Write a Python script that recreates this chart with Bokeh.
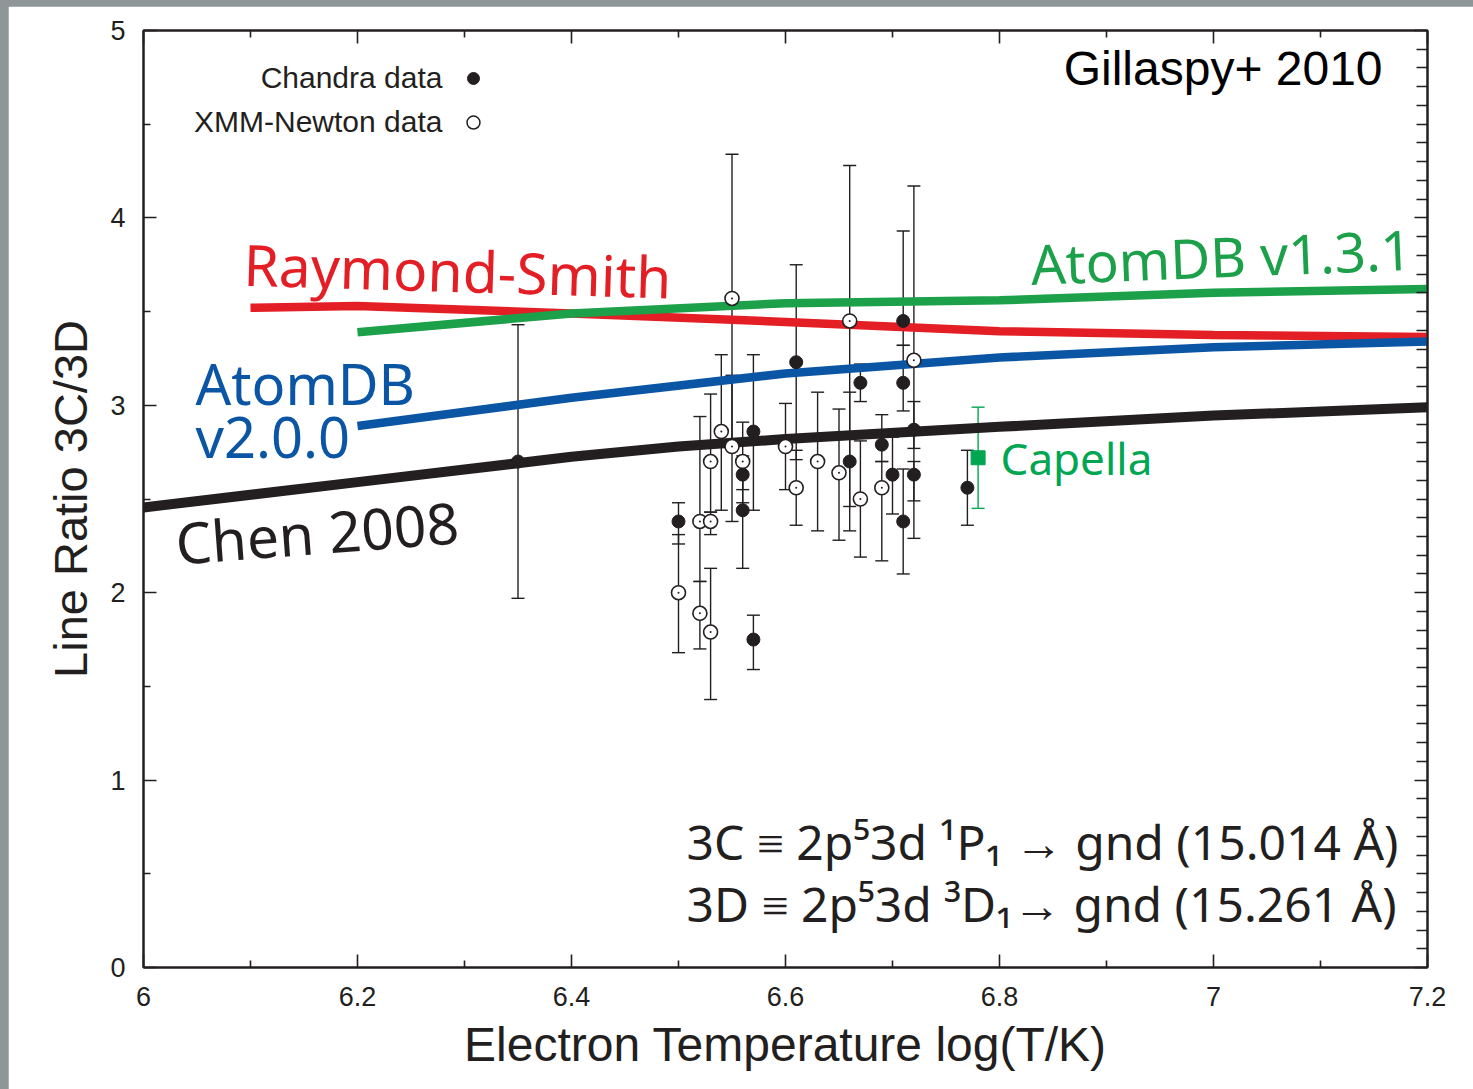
from bokeh.plotting import figure
from bokeh.models import (Range1d, LinearAxis, FixedTicker, Whisker, TeeHead,
                          ColumnDataSource, Label, CustomLabelingPolicy)
from bokeh.layouts import column
from bokeh.embed import file_html
from bokeh.resources import INLINE

# ---------------- data ----------------
# Chandra (filled circles)
chandra_x  = [6.35, 6.50, 6.56, 6.56, 6.57, 6.57, 6.61, 6.66, 6.67, 6.69, 6.70, 6.71, 6.71, 6.71, 6.72, 6.72, 6.77]
chandra_y  = [2.70, 2.38, 2.63, 2.44, 2.86, 1.75, 3.23, 2.70, 3.12, 2.79, 2.63, 3.45, 3.12, 2.38, 2.87, 2.63, 2.56]
chandra_hi = [3.43, 2.48, 2.73, 2.69, 3.27, 1.88, 3.75, 3.07, 3.22, 2.95, 2.83, 3.93, 3.32, 2.66, 3.02, 2.70, 2.76]
chandra_lo = [1.97, 2.26, 2.48, 2.13, 2.44, 1.59, 2.71, 2.46, 3.02, 2.70, 2.42, 3.32, 2.97, 2.10, 2.77, 2.29, 2.36]

# XMM-Newton (open circles)
xmm_x  = [6.50, 6.52, 6.52, 6.53, 6.53, 6.53, 6.54, 6.55, 6.55, 6.56, 6.60, 6.61, 6.63, 6.65, 6.66, 6.67, 6.69, 6.72]
xmm_y  = [2.00, 2.38, 1.89, 2.38, 2.70, 1.79, 2.86, 3.57, 2.78, 2.70, 2.78, 2.56, 2.70, 2.64, 3.45, 2.50, 2.56, 3.24]
xmm_hi = [2.31, 2.94, 2.06, 2.43, 3.06, 2.13, 3.27, 4.34, 3.16, 2.91, 3.01, 2.76, 3.07, 2.98, 4.28, 2.81, 2.70, 4.17]
xmm_lo = [1.68, 2.06, 1.70, 2.31, 2.43, 1.43, 2.44, 2.80, 2.38, 2.55, 2.55, 2.36, 2.33, 2.28, 2.33, 2.19, 2.17, 2.49]

# Capella
capella_x  = [6.78]
capella_y  = [2.72]
capella_hi = [2.99]
capella_lo = [2.45]

# Model curves
rs_T  = [6.1, 6.2, 6.4, 6.6, 6.8, 7.0, 7.2]
rs_R  = [3.52, 3.53, 3.49, 3.445, 3.395, 3.375, 3.365]
a13_T = [6.2, 6.4, 6.6, 6.8, 7.0, 7.2]
a13_R = [3.39, 3.49, 3.545, 3.56, 3.60, 3.62]
a20_T = [6.2, 6.4, 6.6, 6.8, 7.0, 7.2]
a20_R = [2.89, 3.04, 3.17, 3.255, 3.31, 3.34]
chen_T = [6.0, 6.2, 6.4, 6.5, 6.6, 6.8, 7.0, 7.2]
chen_R = [2.455, 2.59, 2.725, 2.78, 2.82, 2.885, 2.945, 2.99]

x_ticks = [6.0, 6.2, 6.4, 6.6, 6.8, 7.0, 7.2]
x_tick_labels = ["6", "6.2", "6.4", "6.6", "6.8", "7", "7.2"]
y_ticks = [0, 1, 2, 3, 4, 5]

# ---------------- styling ----------------
INK = "#231f20"
RED = "#e31e25"
GREEN = "#1ca04a"
BLUE = "#0a55a4"
CAP_GREEN = "#00a651"
HUM = "Noto Sans"
HEL = "Liberation Sans"
PX_PER_Y = 187.4  # frame height / y span (layout helper for text baselines)

p = figure(width=1465, height=1083, output_backend="svg", toolbar_location=None,
           x_range=Range1d(6.0, 7.2), y_range=Range1d(0, 5),
           min_border_left=135, min_border_right=46, min_border_top=24, min_border_bottom=122,
           x_axis_label="Electron Temperature log(T/K)", y_axis_label="Line Ratio 3C/3D")
p.margin = (6, 0, 0, 8)
p.grid.visible = False
p.outline_line_color = INK
p.outline_line_width = 2
p.background_fill_color = "white"
p.border_fill_color = "white"

xminor = [round(6.1 + 0.2 * i, 2) for i in range(6)]
yminor_left = [0.5, 1.5, 2.5, 3.5, 4.5]
yminor_right = [round(0.1 * i, 2) for i in range(51) if i % 10 != 0]

no_labels = CustomLabelingPolicy(code="return new Set()")

def style_axis(ax, labels=True):
    ax.axis_line_color = INK
    ax.axis_line_width = 2
    ax.major_tick_line_color = INK
    ax.minor_tick_line_color = INK
    ax.major_tick_line_width = 1.6
    ax.minor_tick_line_width = 1.6
    ax.major_tick_in = 13
    ax.major_tick_out = 0
    ax.minor_tick_in = 7
    ax.minor_tick_out = 0
    if labels:
        ax.major_label_text_font = HEL
        ax.major_label_text_font_size = "27px"
        ax.major_label_text_color = INK
        ax.axis_label_text_font = HEL
        ax.axis_label_text_font_style = "normal"
        ax.axis_label_text_color = INK
    else:
        ax.major_label_policy = no_labels
        ax.major_label_standoff = 0

xax = p.xaxis[0]
xax.ticker = FixedTicker(ticks=x_ticks, minor_ticks=xminor)
xax.major_label_overrides = {t: l for t, l in zip(x_ticks, x_tick_labels)}
style_axis(xax)
xax.axis_label_text_font_size = "48px"
xax.major_label_standoff = 19
xax.axis_label_standoff = 9

yax = p.yaxis[0]
yax.ticker = FixedTicker(ticks=y_ticks, minor_ticks=yminor_left)
style_axis(yax)
yax.axis_label_text_font_size = "47px"
yax.major_label_standoff = 18
yax.axis_label_standoff = 10

top = LinearAxis(ticker=FixedTicker(ticks=x_ticks, minor_ticks=xminor))
style_axis(top, labels=False)
p.add_layout(top, "above")
right = LinearAxis(ticker=FixedTicker(ticks=y_ticks, minor_ticks=yminor_right))
style_axis(right, labels=False)
right.minor_tick_in = 11
p.add_layout(right, "right")

# ---------------- error bars ----------------
ch_src = ColumnDataSource(dict(x=chandra_x, y=chandra_y, hi=chandra_hi, lo=chandra_lo))
xm_src = ColumnDataSource(dict(x=xmm_x, y=xmm_y, hi=xmm_hi, lo=xmm_lo))
cp_src = ColumnDataSource(dict(x=capella_x, y=capella_y, hi=capella_hi, lo=capella_lo))

for src, col in ((ch_src, INK), (xm_src, INK), (cp_src, CAP_GREEN)):
    w = Whisker(source=src, base="x", upper="hi", lower="lo", dimension="height",
                line_color=col, line_width=1.4,
                upper_head=TeeHead(size=13, line_color=col, line_width=1.4),
                lower_head=TeeHead(size=13, line_color=col, line_width=1.4))
    p.add_layout(w)

# ---------------- model curves ----------------
p.line(rs_T, rs_R, line_color=RED, line_width=8.5)
p.line(a13_T, a13_R, line_color=GREEN, line_width=8.5)
p.line(a20_T, a20_R, line_color=BLUE, line_width=8.5)
p.line(chen_T, chen_R, line_color=INK, line_width=10)

# ---------------- data points ----------------
p.scatter("x", "y", source=xm_src, size=14, marker="circle", fill_color="white",
          line_color=INK, line_width=1.6)
p.scatter("x", "y", source=xm_src, size=2, marker="circle", fill_color=INK, line_color=None)
p.scatter("x", "y", source=ch_src, size=13, marker="circle", fill_color=INK, line_color=INK)
p.scatter("x", "y", source=cp_src, size=14, marker="square", fill_color=CAP_GREEN, line_color=CAP_GREEN)

# ---------------- texts ----------------
def txt(x, y, s, color, size, font, angle=0.0, align="left"):
    # compensate the renderer's alphabetic-baseline shift (~0.4 em)
    y_adj = y + 0.4 * size / PX_PER_Y
    p.add_layout(Label(x=x, y=y_adj, text=s, text_color=color, text_font_size=f"{size}px",
                       text_font=font, angle=angle, text_align=align,
                       text_baseline="alphabetic"))

txt(6.0935, 3.634, "Raymond-Smith", RED, 57, HUM, angle=-0.03)
txt(6.829, 3.639, "AtomDB v1.3.1", GREEN, 55, HUM, angle=0.04)
txt(6.0486, 2.999, "AtomDB", BLUE, 56, HUM)
txt(6.0486, 2.716, "v2.0.0", BLUE, 56, HUM)
txt(6.0299, 2.145, "Chen 2008", INK, 57, HUM, angle=0.075)
txt(6.801, 2.625, "Capella", CAP_GREEN, 44, HUM)
txt(7.158, 4.696, "Gillaspy+ 2010", "black", 48, HEL, align="right")

txt(6.2794, 4.685, "Chandra data", INK, 30, HEL, align="right")
txt(6.2794, 4.450, "XMM-Newton data", INK, 30, HEL, align="right")
p.scatter([6.3084], [4.744], size=12, marker="circle", fill_color=INK, line_color=INK)
p.scatter([6.3084], [4.509], size=13, marker="circle", fill_color="white", line_color=INK, line_width=1.5)

txt(6.5075, 0.571, "3C \u2261 2p\u20753d \u00b9P\u2081 \u2192 gnd (15.014 \u00c5)", INK, 48, HUM)
txt(6.5075, 0.240, "3D \u2261 2p\u20753d \u00b3D\u2081\u2192 gnd (15.261 \u00c5)", INK, 48, HUM)

root = column(p, styles={"background-color": "#8f9698"})
open("out.html", "w").write(file_html(root, INLINE))
